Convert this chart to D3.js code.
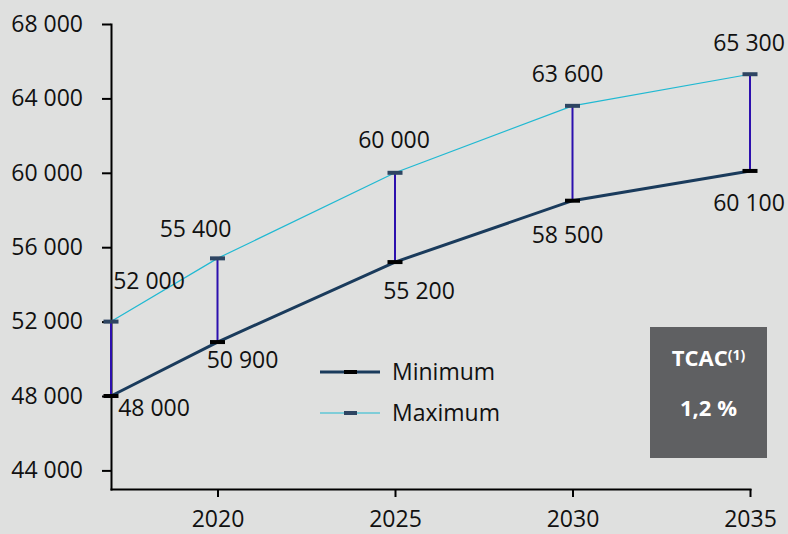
<!DOCTYPE html>
<html>
<head>
<meta charset="utf-8">
<script src="https://cdn.jsdelivr.net/npm/d3@7"></script>
<style>
  html, body { margin: 0; padding: 0; background: #dfe0df; }
  svg { display: block; font-family: "Open Sans", sans-serif; }
  .axis path, .axis line { stroke: #000; stroke-width: 2; }
  .axis text { font-size: 23px; fill: #111; font-family: "Open Sans", sans-serif; }
</style>
</head>
<body>
<div class="graph"></div>
<script>
// data
var years = [2017, 2020, 2025, 2030, 2035];
var minimum = [48000, 50900, 55200, 58500, 60100];
var maximum = [52000, 55400, 60000, 63600, 65300];
var yTicks = [44000, 48000, 52000, 56000, 60000, 64000, 68000];
var xTicks = [2020, 2025, 2030, 2035];
var seriesNames = ["Minimum", "Maximum"];
var tcacLabel = "TCAC";
var tcacNote = "(1)";
var tcacValue = "1,2 %";

// label nudges (px) so the numbers sit like in the original
var minLabelOffset = [[43, 12], [25, 18], [24, 29], [-5, 34], [-1, 32]];
var maxLabelOffset = [[38, -41], [-22, -30], [-1, -33], [-5, -32], [-1, -32]];

const w = 788;
const h = 534;

const fr = d3.formatLocale({decimal: ",", thousands: " ", grouping: [3], currency: ["", ""]});
const fmt = fr.format(",d");

const xScale = d3.scaleLinear()
    .domain([2017, 2035])
    .range([111, 750]);

const yScale = d3.scaleLinear()
    .domain([43000, 68000])
    .range([489, 24]);

const svg = d3.select(".graph")
    .append("svg")
    .attr("width", w)
    .attr("height", h);

svg.append("rect")
    .attr("width", w)
    .attr("height", h)
    .attr("fill", "#dfe0df");

// axes
svg.append("g")
    .attr("class", "axis")
    .attr("transform", "translate(111,0)")
    .call(d3.axisLeft(yScale).tickValues(yTicks).tickFormat(fmt)
        .tickSize(9).tickSizeOuter(0).tickPadding(19));

svg.append("g")
    .attr("class", "axis")
    .attr("transform", "translate(0,489)")
    .call(d3.axisBottom(xScale).tickValues(xTicks).tickFormat(d3.format("d"))
        .tickSize(8).tickSizeOuter(0).tickPadding(14));

svg.selectAll(".axis .domain").attr("stroke-linecap", "square");

// vertical range bars
svg.selectAll(".range")
    .data(years)
    .enter()
    .append("line")
    .attr("class", "range")
    .attr("x1", (d) => xScale(d))
    .attr("x2", (d) => xScale(d))
    .attr("y1", (d, i) => yScale(maximum[i]))
    .attr("y2", (d, i) => yScale(minimum[i]))
    .attr("stroke", "#2c10ae")
    .attr("stroke-width", 2);

const line = d3.line()
    .x((d) => xScale(d[0]))
    .y((d) => yScale(d[1]));

svg.append("path")
    .datum(years.map((y, i) => [y, maximum[i]]))
    .attr("d", line)
    .attr("fill", "none")
    .attr("stroke", "#20b9d2")
    .attr("stroke-width", 1.2);

svg.append("path")
    .datum(years.map((y, i) => [y, minimum[i]]))
    .attr("d", line)
    .attr("fill", "none")
    .attr("stroke", "#1a3b5c")
    .attr("stroke-width", 3);

// dash markers
function markers(values, color, cls) {
    svg.selectAll("." + cls)
        .data(values)
        .enter()
        .append("rect")
        .attr("class", cls)
        .attr("x", (d, i) => xScale(years[i]) - 7.5)
        .attr("y", (d) => yScale(d) - 2)
        .attr("width", 15)
        .attr("height", 4)
        .attr("fill", color);
}
markers(maximum, "#2e4562", "mxm");
markers(minimum, "#000", "mnm");

// value labels
function labels(values, offs, cls) {
    svg.selectAll("." + cls)
        .data(values)
        .enter()
        .append("text")
        .attr("class", cls)
        .attr("x", (d, i) => xScale(years[i]) + offs[i][0])
        .attr("y", (d, i) => yScale(d) + offs[i][1])
        .attr("dy", "0.36em")
        .attr("text-anchor", "middle")
        .style("font-size", "23px")
        .attr("fill", "#111")
        .text((d) => fmt(d));
}
labels(maximum, maxLabelOffset, "mxl");
labels(minimum, minLabelOffset, "mnl");

// legend
const legend = svg.append("g").attr("transform", "translate(320,372)");
seriesNames.forEach(function(name, i) {
    var g = legend.append("g").attr("transform", "translate(0," + (i * 41) + ")");
    g.append("line")
        .attr("x1", 0).attr("x2", 60)
        .attr("stroke", i === 0 ? "#1a3b5c" : "#20b9d2")
        .attr("stroke-width", i === 0 ? 3 : 1.2);
    g.append("rect")
        .attr("x", 24).attr("y", -2)
        .attr("width", 13).attr("height", 4)
        .attr("fill", i === 0 ? "#000" : "#2e4562");
    g.append("text")
        .attr("x", 72)
        .attr("dy", "0.36em")
        .style("font-size", "23px")
        .attr("fill", "#111")
        .text(name);
});

// TCAC box
const box = svg.append("g").attr("transform", "translate(650,327)");
box.append("rect")
    .attr("width", 117)
    .attr("height", 131)
    .attr("fill", "#5f6062");
const t1 = box.append("text")
    .attr("x", 58.5)
    .attr("y", 31)
    .attr("dy", "0.36em")
    .attr("text-anchor", "middle")
    .attr("fill", "#fff")
    .style("font-weight", "bold")
    .style("font-size", "22px");
t1.append("tspan").text(tcacLabel);
t1.append("tspan").attr("dy", "-0.45em").style("font-size", "14px").text(tcacNote);
box.append("text")
    .attr("x", 58.5)
    .attr("y", 81)
    .attr("dy", "0.36em")
    .attr("text-anchor", "middle")
    .attr("fill", "#fff")
    .style("font-weight", "bold")
    .style("font-size", "22px")
    .text(tcacValue);
</script>
</body>
</html>
